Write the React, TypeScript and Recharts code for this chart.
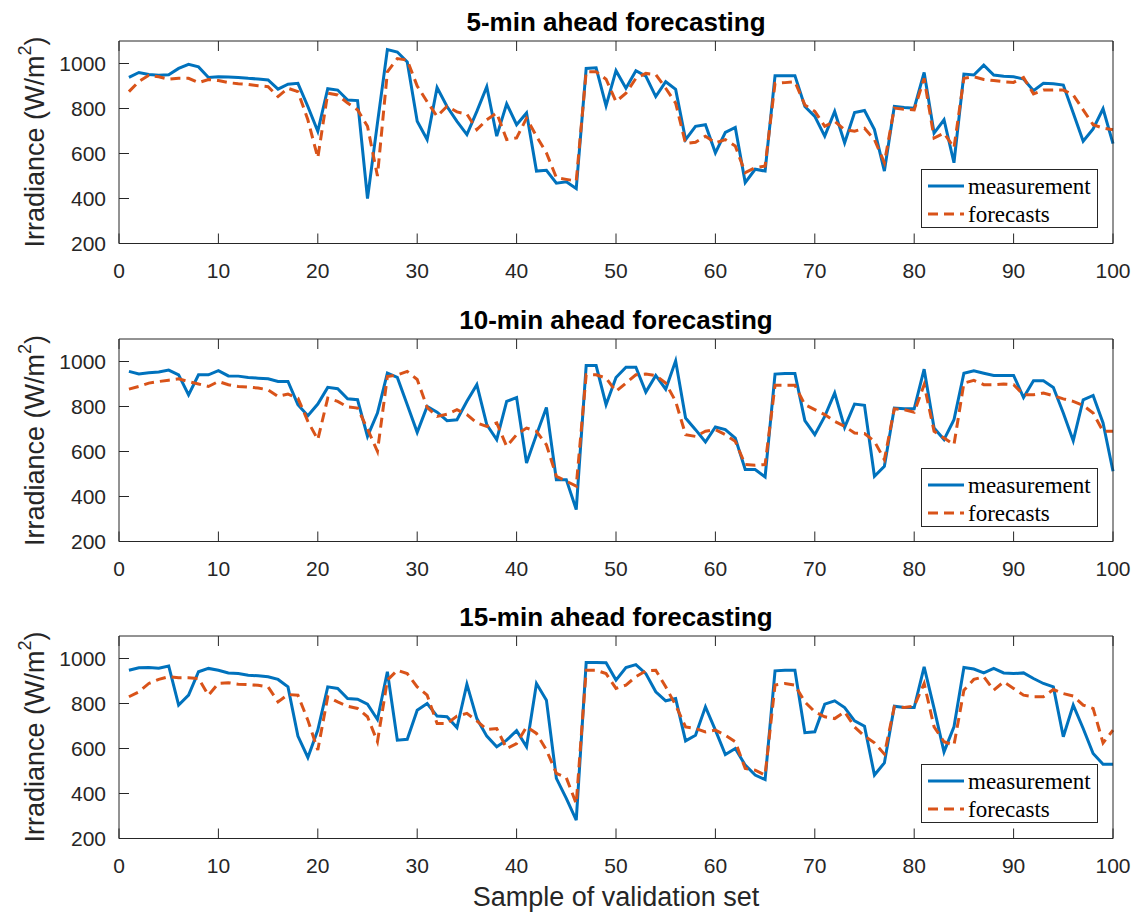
import React from 'react';
import { LineChart, Line, XAxis, YAxis, Legend } from 'recharts';

// ---------- data ----------
const samples: number[] = Array.from({ length: 100 }, (_, i) => i + 1);

const meas5 = [938, 960, 951, 948, 950, 978, 996, 985, 938, 941, 940, 938, 934, 931, 927, 886, 908, 912, 809, 699,
  888, 882, 838, 835, 400, 735, 1062, 1051, 1007, 743, 662, 893, 809, 743, 684, 787, 897, 677, 821, 728,
  780, 522, 525, 468, 474, 444, 978, 981, 812, 968, 890, 968, 944, 853, 919, 885, 662, 721, 728, 603,
  694, 716, 471, 530, 522, 946, 946, 946, 809, 765, 677, 787, 647, 782, 791, 706, 522, 809, 804, 801,
  960, 691, 750, 559, 953, 949, 993, 949, 943, 941, 931, 879, 912, 910, 904, 780, 655, 709, 799, 644];
const fc5 = [875, 920, 948, 941, 930, 934, 934, 915, 929, 924, 915, 910, 907, 901, 897, 853, 890, 875, 750, 581,
  868, 860, 824, 794, 721, 500, 963, 1022, 1015, 900, 830, 765, 810, 785, 775, 706, 750, 780, 662, 669,
  757, 677, 603, 493, 485, 478, 963, 963, 930, 831, 868, 934, 956, 951, 890, 824, 644, 650, 677, 647,
  662, 633, 515, 537, 544, 912, 915, 919, 816, 787, 721, 743, 706, 699, 712, 662, 559, 802, 797, 794,
  934, 669, 691, 625, 934, 941, 929, 924, 919, 916, 938, 865, 882, 882, 882, 860, 794, 728, 713, 706];

const meas10 = [956, 945, 950, 953, 962, 941, 852, 941, 941, 959, 936, 935, 929, 926, 923, 911, 911, 808, 759, 811,
  885, 879, 834, 830, 667, 771, 948, 929, 808, 685, 800, 775, 737, 741, 823, 897, 719, 653, 823, 840,
  549, 675, 796, 475, 475, 342, 982, 982, 808, 929, 975, 975, 864, 938, 877, 1003, 749, 697, 642, 709,
  697, 660, 520, 520, 487, 944, 947, 947, 737, 675, 756, 860, 707, 811, 805, 490, 534, 793, 790, 790,
  966, 704, 653, 741, 948, 959, 948, 938, 938, 938, 840, 914, 914, 885, 771, 648, 830, 849, 727, 512];
const fc10 = [877, 889, 904, 911, 917, 923, 911, 900, 889, 911, 897, 889, 886, 882, 874, 845, 855, 837, 734, 653,
  837, 823, 798, 793, 700, 601, 933, 940, 956, 920, 796, 756, 766, 786, 764, 727, 712, 727, 623, 675,
  704, 690, 630, 490, 468, 446, 941, 941, 926, 867, 904, 941, 944, 938, 904, 823, 675, 667, 690, 697,
  675, 645, 542, 539, 542, 894, 894, 894, 808, 786, 764, 734, 712, 682, 680, 645, 564, 790, 786, 775,
  897, 690, 660, 630, 904, 916, 897, 897, 900, 897, 852, 852, 860, 848, 834, 823, 805, 771, 690, 690];

const meas15 = [948, 959, 960, 957, 967, 793, 837, 941, 956, 948, 936, 933, 926, 923, 919, 907, 874, 655, 560, 682,
  874, 867, 822, 819, 797, 729, 941, 637, 641, 770, 800, 744, 741, 693, 886, 733, 655, 608, 637, 679,
  608, 889, 815, 467, 378, 282, 982, 982, 981, 904, 960, 973, 933, 852, 812, 822, 634, 659, 785, 682,
  573, 600, 526, 482, 462, 945, 948, 948, 670, 674, 797, 812, 782, 723, 699, 482, 536, 788, 782, 782,
  963, 778, 585, 696, 960, 953, 936, 956, 936, 933, 936, 911, 889, 874, 652, 793, 689, 578, 530, 530];
const fc15 = [830, 852, 889, 907, 919, 914, 914, 911, 837, 889, 892, 886, 884, 881, 874, 807, 840, 837, 726, 593,
  830, 807, 788, 778, 741, 630, 904, 948, 933, 874, 837, 711, 711, 744, 756, 723, 685, 689, 600, 622,
  696, 667, 593, 490, 470, 355, 948, 948, 933, 867, 882, 919, 945, 948, 874, 793, 696, 689, 674, 682,
  659, 630, 511, 504, 482, 882, 889, 882, 807, 763, 741, 733, 763, 696, 655, 625, 575, 785, 782, 788,
  889, 696, 630, 615, 859, 907, 919, 859, 896, 867, 837, 830, 830, 862, 844, 833, 793, 778, 625, 682];

const xTicks = [0, 10, 20, 30, 40, 50, 60, 70, 80, 90, 100];
const yTicks = [200, 400, 600, 800, 1000];
const titles = ['5-min ahead forecasting', '10-min ahead forecasting', '15-min ahead forecasting'];
const seriesNames = ['measurement', 'forecasts'];
const yLabel = 'Irradiance (W/m';
const xLabel = 'Sample of validation set';

// ---------- layout ----------
const W = 1136;
const H = 913;
const PLOT_LEFT = 119;
const PLOT_RIGHT = 1113;
const PLOT_H = 202.5;
const PLOT_TOPS = [40.8, 339.2, 635.8];
const PAD = 40;
const AXIS_COLOR = '#262626';
const BLUE = '#0072BD';
const ORANGE = '#D95319';
const SANS = '"Liberation Sans", Arial, Helvetica, sans-serif';
const SERIF = '"Liberation Serif", "Times New Roman", serif';
const TICK_FONT = 21;
const TICK_LEN = 10;

const BottomTick = (p: any) => (
  <g>
    <line x1={p.x} x2={p.x} y1={p.y} y2={p.y - TICK_LEN} stroke={AXIS_COLOR} strokeWidth={1} />
    <text x={p.x} y={p.y + 27} textAnchor="middle" dominantBaseline="central"
      fontFamily={SANS} fontSize={TICK_FONT} fill={AXIS_COLOR}>{p.payload.value}</text>
  </g>
);
const TopTick = (p: any) => (
  <line x1={p.x} x2={p.x} y1={p.y} y2={p.y + TICK_LEN} stroke={AXIS_COLOR} strokeWidth={1} />
);
const LeftTick = (p: any) => (
  <g>
    <line x1={p.x} x2={p.x + TICK_LEN} y1={p.y} y2={p.y} stroke={AXIS_COLOR} strokeWidth={1} />
    <text x={p.x - 13} y={p.y} textAnchor="end" dominantBaseline="central"
      fontFamily={SANS} fontSize={TICK_FONT} fill={AXIS_COLOR}>{p.payload.value}</text>
  </g>
);
const RightTick = (p: any) => (
  <line x1={p.x} x2={p.x - TICK_LEN} y1={p.y} y2={p.y} stroke={AXIS_COLOR} strokeWidth={1} />
);

const LegendBox = () => (
  <div style={{ width: 175, height: 57, border: `1px solid ${AXIS_COLOR}`, background: '#fff', position: 'relative', boxSizing: 'content-box' }}>
    <svg width={175} height={57} style={{ position: 'absolute', left: 0, top: 0 }}>
      <line x1={6} x2={42} y1={16} y2={16} stroke={BLUE} strokeWidth={3} />
      <line x1={6} x2={42} y1={44} y2={44} stroke={ORANGE} strokeWidth={3} strokeDasharray="10 6" />
      <text x={46} y={16} dominantBaseline="central" fontFamily={SERIF} fontSize={23} fill="#000">{seriesNames[0]}</text>
      <text x={46} y={44} dominantBaseline="central" fontFamily={SERIF} fontSize={23} fill="#000">{seriesNames[1]}</text>
    </svg>
  </div>
);

function Panel({ plotTop, meas, fc }: { plotTop: number; meas: number[]; fc: number[] }) {
  const data = samples.map((s, i) => ({ sample: s, measurement: meas[i], forecasts: fc[i] }));
  const chartH = PAD + PLOT_H + PAD;
  return (
    <div style={{ position: 'absolute', left: 0, top: plotTop - PAD, width: W, height: chartH }}>
      <LineChart width={W} height={chartH} data={data}
        margin={{ top: PAD - 1, right: W - PLOT_RIGHT - 1, bottom: PAD - 30, left: PLOT_LEFT - 50 }}>
        <XAxis dataKey="sample" type="number" domain={[0, 100]} ticks={xTicks} interval={0}
          xAxisId="b" orientation="bottom" height={30}
          stroke={AXIS_COLOR} tickLine={false} tickSize={0} tickMargin={0} tick={BottomTick} />
        <XAxis dataKey="sample" type="number" domain={[0, 100]} ticks={xTicks} interval={0}
          xAxisId="t" orientation="top" height={1}
          stroke={AXIS_COLOR} tickLine={false} tickSize={0} tickMargin={0} tick={TopTick} />
        <YAxis type="number" domain={[200, 1100]} ticks={yTicks} interval={0}
          yAxisId="l" orientation="left" width={50}
          stroke={AXIS_COLOR} tickLine={false} tickSize={0} tickMargin={0} tick={LeftTick} />
        <YAxis type="number" domain={[200, 1100]} ticks={yTicks} interval={0}
          yAxisId="r" orientation="right" width={1}
          stroke={AXIS_COLOR} tickLine={false} tickSize={0} tickMargin={0} tick={RightTick} />
        <Line xAxisId="b" yAxisId="l" type="linear" dataKey="measurement" name={seriesNames[0]}
          stroke={BLUE} strokeWidth={3} dot={false} isAnimationActive={false} />
        <Line xAxisId="b" yAxisId="l" type="linear" dataKey="forecasts" name={seriesNames[1]}
          stroke={ORANGE} strokeWidth={3} strokeDasharray="10 6" dot={false} isAnimationActive={false} />
        <Legend layout="horizontal" verticalAlign="middle" align="center" content={<LegendBox />}
          wrapperStyle={{ position: 'absolute', left: 921, top: PAD + PLOT_H - 74, width: 177, height: 59 }} />
      </LineChart>
    </div>
  );
}

export default function App() {
  const series = [[meas5, fc5], [meas10, fc10], [meas15, fc15]];
  const cx = (PLOT_LEFT + PLOT_RIGHT) / 2;
  return (
    <div style={{ position: 'absolute', left: 0, top: 0, width: W, height: H, background: '#fff', overflow: 'hidden' }}>
      {PLOT_TOPS.map((t, i) => (
        <Panel key={i} plotTop={t} meas={series[i][0]} fc={series[i][1]} />
      ))}
      <svg width={W} height={H} style={{ position: 'absolute', left: 0, top: 0, pointerEvents: 'none' }}>
        {PLOT_TOPS.map((t, i) => (
          <text key={'t' + i} x={cx} y={t - 19} textAnchor="middle" dominantBaseline="central"
            fontFamily={SANS} fontWeight="bold" fontSize={26} fill="#000">{titles[i]}</text>
        ))}
        {PLOT_TOPS.map((t, i) => {
          const cy = t + PLOT_H / 2;
          return (
            <text key={'y' + i} x={35} y={cy} textAnchor="middle" dominantBaseline="central"
              transform={`rotate(-90, 35, ${cy})`} fontFamily={SANS} fontSize={27} fill={AXIS_COLOR}>
              {yLabel}<tspan dy={-10} fontSize={18}>2</tspan><tspan dy={10}>)</tspan>
            </text>
          );
        })}
        <text x={cx} y={897} textAnchor="middle" dominantBaseline="central"
          fontFamily={SANS} fontSize={27} fill={AXIS_COLOR}>{xLabel}</text>
      </svg>
    </div>
  );
}
